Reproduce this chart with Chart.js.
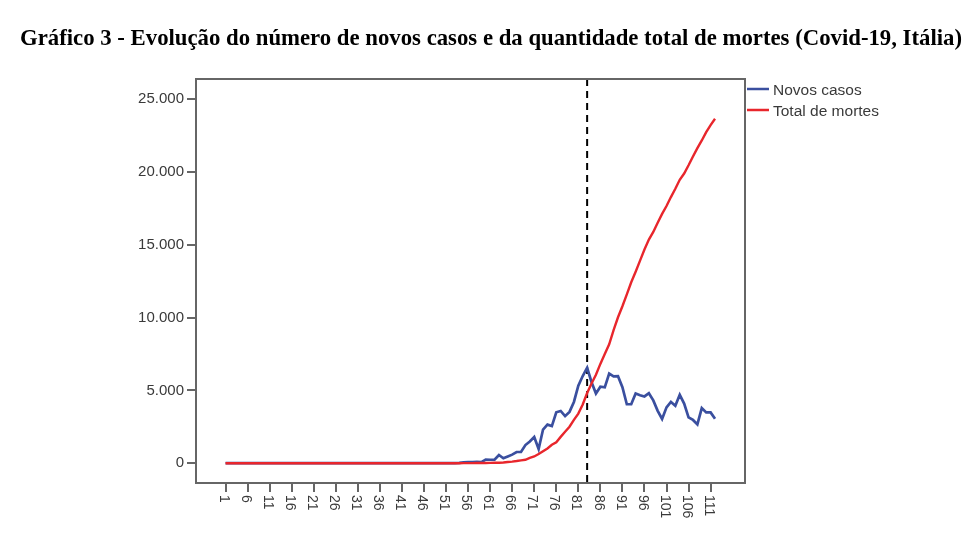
<!DOCTYPE html>
<html lang="pt">
<head>
<meta charset="utf-8">
<title>Gráfico 3 - Covid-19, Itália</title>
<script src="https://cdn.jsdelivr.net/npm/chart.js@4.4.1/dist/chart.umd.min.js"></script>
<style>
  html, body { margin: 0; padding: 0; background: #fff; }
  #chart { display: block; }
</style>
</head>
<body>
<canvas id="chart" width="980" height="534"></canvas>
<script>
// Itália: dia 1 .. 112 (dia 83 = pico de novos casos, linha tracejada)
const days = Array.from({ length: 112 }, (_, i) => i + 1);
const xTicks = [1, 6, 11, 16, 21, 26, 31, 36, 41, 46, 51, 56, 61, 66, 71, 76, 81, 86, 91, 96, 101, 106, 111];
const yTicks = [0, 5000, 10000, 15000, 20000, 25000];
const PEAK_DAY = 83;

const newCases = [
  0, 0, 0, 0, 0, 0, 0, 0, 0, 0,
  0, 0, 0, 0, 0, 0, 0, 0, 0, 0,
  0, 0, 0, 0, 0, 0, 0, 0, 0, 0,
  0, 0, 0, 0, 0, 0, 0, 0, 0, 0,
  0, 0, 0, 0, 0, 0, 0, 0, 0, 0,
  0, 0, 0, 17, 59, 71, 79, 93, 78, 250,
  238, 240, 566, 342, 466, 587, 769, 778, 1247, 1492,
  1797, 977, 2313, 2651, 2547, 3497, 3590, 3233, 3526, 4207,
  5322, 5986, 6557, 5560, 4789, 5249, 5210, 6153, 5959, 5974,
  5217, 4050, 4053, 4782, 4668, 4585, 4805, 4316, 3599, 3039,
  3836, 4204, 3951, 4694, 4092, 3153, 2972, 2667, 3786, 3493,
  3491, 3047
];

const totalDeaths = [
  0, 0, 0, 0, 0, 0, 0, 0, 0, 0,
  0, 0, 0, 0, 0, 0, 0, 0, 0, 0,
  0, 0, 0, 0, 0, 0, 0, 0, 0, 0,
  0, 0, 0, 0, 0, 0, 0, 0, 0, 0,
  0, 0, 0, 0, 0, 0, 0, 0, 0, 0,
  0, 0, 0, 1, 2, 3, 7, 10, 12, 17,
  21, 29, 34, 52, 79, 107, 148, 197, 233, 366,
  463, 631, 827, 1016, 1266, 1441, 1809, 2158, 2503, 2978,
  3405, 4032, 4825, 5476, 6077, 6820, 7503, 8165, 9134, 10023,
  10779, 11591, 12428, 13155, 13915, 14681, 15362, 15887, 16523, 17127,
  17669, 18279, 18849, 19468, 19899, 20465, 21067, 21645, 22170, 22745,
  23227, 23660
];

const seriesNames = ['Novos casos', 'Total de mortes'];
const seriesColors = ['#3a4f9f', '#e8262c'];
const TITLE = 'Gráfico 3 - Evolução do número de novos casos e da quantidade total de mortes (Covid-19, Itália)';

const AXIS_COLOR = '#666666';
const TEXT_COLOR = '#3a3a3a';
const SANS = '"Liberation Sans", Arial, sans-serif';

function fmtThousands(v) {
  return String(v).replace(/\B(?=(\d{3})+(?!\d))/g, '.');
}

// título (condensado), moldura, linha tracejada, rótulos do eixo x e legenda
const extras = {
  id: 'extras',
  beforeDatasetsDraw(chart) {
    const { ctx, chartArea: a, scales } = chart;
    const x = scales.x.getPixelForValue(PEAK_DAY);
    ctx.save();
    ctx.strokeStyle = '#000';
    ctx.lineWidth = 2;
    ctx.setLineDash([7, 5]);
    ctx.beginPath();
    ctx.moveTo(x, a.top);
    ctx.lineTo(x, a.bottom);
    ctx.stroke();
    ctx.restore();
  },
  afterDraw(chart) {
    const { ctx, chartArea: a, scales } = chart;
    ctx.save();
    ctx.fillStyle = '#000';
    ctx.font = 'bold 24px "Liberation Serif", "Times New Roman", serif';
    ctx.textAlign = 'center';
    ctx.textBaseline = 'middle';
    ctx.fillText(TITLE, 491, 39, 942);

    ctx.strokeStyle = AXIS_COLOR;
    ctx.lineWidth = 2;
    ctx.strokeRect(a.left, a.top, a.right - a.left, a.bottom - a.top);

    ctx.fillStyle = TEXT_COLOR;
    ctx.font = '14px ' + SANS;
    ctx.textAlign = 'left';
    xTicks.forEach((v) => {
      const px = scales.x.getPixelForValue(v);
      ctx.save();
      ctx.translate(px - 2, a.bottom + 12);
      ctx.rotate(Math.PI / 2);
      ctx.fillText(String(v), 0, 0);
      ctx.restore();
    });

    ctx.font = '15.5px ' + SANS;
    seriesNames.forEach((name, i) => {
      const y = a.top + 10 + i * 21;
      ctx.strokeStyle = seriesColors[i];
      ctx.lineWidth = 2.5;
      ctx.beginPath();
      ctx.moveTo(a.right + 2, y);
      ctx.lineTo(a.right + 24, y);
      ctx.stroke();
      ctx.fillStyle = TEXT_COLOR;
      ctx.fillText(name, a.right + 28, y + 2);
    });
    ctx.restore();
  },
};

new Chart(document.getElementById('chart').getContext('2d'), {
  type: 'line',
  data: {
    labels: days,
    datasets: [
      {
        label: seriesNames[0],
        data: newCases,
        borderColor: seriesColors[0],
        borderWidth: 2.7,
        pointRadius: 0,
        tension: 0,
        fill: false,
        order: 2,
      },
      {
        label: seriesNames[1],
        data: totalDeaths,
        borderColor: seriesColors[1],
        borderWidth: 2.4,
        pointRadius: 0,
        tension: 0,
        fill: false,
        order: 1,
      },
    ],
  },
  options: {
    responsive: false,
    animation: false,
    devicePixelRatio: 1,
    layout: { padding: { top: 79, right: 0, bottom: 0, left: 0 } },
    plugins: {
      legend: { display: false },
      tooltip: { enabled: false },
      title: { display: false },
    },
    scales: {
      x: {
        type: 'linear',
        min: -5.7,
        max: 118.8,
        afterBuildTicks: (axis) => {
          axis.ticks = xTicks.map((v) => ({ value: v }));
        },
        afterFit: (axis) => {
          axis.height = 51;
        },
        ticks: { display: false },
        grid: { drawOnChartArea: false, drawTicks: true, tickLength: 9, color: AXIS_COLOR, lineWidth: 2 },
        border: { display: true, color: AXIS_COLOR, width: 2 },
      },
      y: {
        min: -1360,
        max: 26390,
        afterBuildTicks: (axis) => {
          axis.ticks = yTicks.map((v) => ({ value: v }));
        },
        afterFit: (axis) => {
          axis.width = 196;
        },
        ticks: {
          color: TEXT_COLOR,
          padding: 3,
          font: { family: SANS, size: 15 },
          callback: (v) => fmtThousands(v),
        },
        grid: { drawOnChartArea: false, drawTicks: true, tickLength: 9, color: AXIS_COLOR, lineWidth: 2 },
        border: { display: true, color: AXIS_COLOR, width: 2 },
      },
      // espaço à direita para a legenda
      legendSpace: {
        axis: 'y',
        position: 'right',
        afterFit: (axis) => {
          axis.width = 235;
        },
        ticks: { display: false },
        grid: { display: false },
        border: { display: false },
      },
    },
  },
  plugins: [extras],
});
</script>
</body>
</html>
